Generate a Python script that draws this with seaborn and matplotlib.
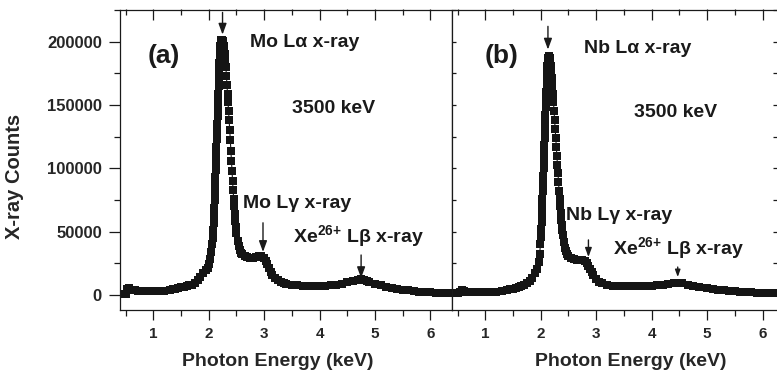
import matplotlib
matplotlib.use("Agg")
import matplotlib.pyplot as plt
from matplotlib.ticker import MultipleLocator
import seaborn as sns

# Mo target spectrum, panel (a)
mo_energy = [0.40, 0.45, 0.50, 0.53, 0.57, 0.62, 0.67, 0.72, 0.80, 0.90,
             1.00, 1.10, 1.20, 1.30, 1.35, 1.40, 1.45, 1.50, 1.55, 1.60,
             1.65, 1.70, 1.75, 1.80, 1.85, 1.90, 1.95, 1.98, 2.01, 2.03,
             2.05, 2.065, 2.075,
             2.085, 2.090, 2.095, 2.100, 2.105, 2.110, 2.115, 2.120, 2.125, 2.130,
             2.135, 2.140, 2.145, 2.150, 2.155, 2.160, 2.165, 2.170, 2.175, 2.180,
             2.185, 2.190, 2.195, 2.200, 2.205, 2.210, 2.215, 2.220, 2.230, 2.240,
             2.250, 2.260, 2.270, 2.280, 2.290, 2.300, 2.310, 2.320, 2.330, 2.340,
             2.350, 2.360, 2.370, 2.380, 2.390, 2.400, 2.410, 2.420, 2.430, 2.440,
             2.450, 2.460, 2.470, 2.480, 2.490, 2.500, 2.520, 2.540, 2.560, 2.580,
             2.600, 2.650, 2.700, 2.750, 2.800, 2.850, 2.900, 2.950, 3.000, 3.030,
             3.060, 3.090, 3.120, 3.150, 3.200, 3.250, 3.300, 3.350, 3.400, 3.500,
             3.600, 3.700, 3.800, 3.900, 4.000, 4.100, 4.200, 4.300, 4.400, 4.500,
             4.600, 4.700, 4.750, 4.800, 4.850, 4.900, 5.000, 5.100, 5.200, 5.300,
             5.400, 5.500, 5.600, 5.700, 5.800, 5.900, 6.000, 6.100, 6.200, 6.300,
             6.400]
mo_counts = [800, 900, 1200, 4500, 5200, 4300, 3600, 3300, 3000, 2900,
             2900, 3000, 3300, 4000, 4500, 5000, 5500, 6000, 6500, 7000,
             7600, 8300, 9500, 11500, 14000, 17000, 19500, 21500, 24500, 28500,
             34000, 40000, 45000,
             51000, 57000, 63000, 69000, 75000, 81000, 87000, 93000, 99000, 105000,
             111000, 117000, 123000, 129000, 135000, 141000, 147000, 153000, 159000, 165000,
             171000, 177000, 183000, 189000, 193000, 196500, 199000, 200500, 201500, 201500,
             200500, 199000, 196500, 193500, 190000, 185500, 180000, 173000, 166000, 159000,
             152000, 145000, 138000, 130000, 122000, 114000, 106000, 98000, 90000, 83000,
             76000, 70000, 64000, 58500, 53500, 49000, 43000, 38500, 35500, 33500,
             32000, 30500, 30000, 29500, 29500, 30000, 30500, 30500, 29000, 27000,
             24500, 21500, 18500, 16000, 13500, 11500, 10200, 9400, 8800, 8200,
             7800, 7500, 7400, 7300, 7300, 7400, 7600, 8200, 9000, 10000,
             11000, 12000, 12300, 12000, 11200, 10300, 9000, 7800, 6700, 5700,
             4900, 4200, 3600, 3100, 2700, 2400, 2200, 2000, 1900, 1800,
             1800]

# Nb target spectrum, panel (b)
nb_energy = [0.40, 0.45, 0.50, 0.55, 0.58, 0.62, 0.67, 0.72, 0.80, 0.90,
             1.00, 1.10, 1.20, 1.30, 1.40, 1.45, 1.50, 1.55, 1.60, 1.65,
             1.70, 1.75, 1.80, 1.85, 1.90, 1.93, 1.96, 1.98, 1.995, 2.005,
             2.010, 2.015, 2.020, 2.025, 2.030, 2.035, 2.040, 2.045, 2.050, 2.055,
             2.060, 2.065, 2.070, 2.075, 2.080, 2.085, 2.090, 2.095, 2.100, 2.105,
             2.110, 2.115, 2.120, 2.125, 2.130, 2.140, 2.150, 2.160, 2.170, 2.180,
             2.190, 2.200, 2.210, 2.220, 2.230, 2.240, 2.250, 2.260, 2.270, 2.280,
             2.290, 2.300, 2.310, 2.320, 2.330, 2.340, 2.350, 2.360, 2.370, 2.380,
             2.390, 2.400, 2.420, 2.440, 2.460, 2.480, 2.500, 2.550, 2.600, 2.650,
             2.700, 2.750, 2.800, 2.830, 2.860, 2.890, 2.920, 2.950, 3.000, 3.050,
             3.100, 3.200, 3.300, 3.400, 3.500, 3.600, 3.700, 3.800, 3.900, 4.000,
             4.100, 4.200, 4.300, 4.400, 4.470, 4.550, 4.650, 4.750, 4.850, 5.000,
             5.100, 5.200, 5.300, 5.400, 5.500, 5.600, 5.700, 5.800, 5.900, 6.000,
             6.100, 6.200, 6.300]
nb_counts = [1500, 1500, 1700, 2500, 4000, 3200, 2700, 2400, 2200, 2100,
             2100, 2300, 2700, 3200, 4000, 4500, 5000, 5600, 6200, 7000,
             8000, 9200, 11000, 13500, 17000, 20500, 26000, 32000, 40000, 46000,
             52000, 58000, 64000, 70000, 76000, 82000, 88000, 94000, 100000, 106000,
             112000, 118000, 124000, 130000, 136000, 142000, 148000, 154000, 160000, 166000,
             172000, 177000, 181000, 185000, 187000, 188500, 188500, 187000, 184500, 181000,
             176000, 171000, 165000, 159000, 152000, 145000, 138000, 131000, 124000, 117000,
             110000, 103000, 96000, 89000, 82000, 76000, 70000, 64500, 59500, 55000,
             51000, 47500, 42000, 37500, 34500, 32500, 31000, 29500, 28500, 28000,
             28000, 27800, 27000, 25500, 23000, 20500, 18000, 15500, 12500, 10500,
             9300, 8200, 7500, 7100, 6900, 6800, 6800, 6900, 7100, 7400,
             7700, 8000, 8700, 9400, 9800, 9200, 8200, 7200, 6300, 5300,
             4700, 4200, 3700, 3300, 2900, 2600, 2300, 2100, 1900, 1800,
             1700, 1600, 1600]

y_ticks = [0, 50000, 100000, 150000, 200000]
y_tick_labels = ["0", "50000", "100000", "150000", "200000"]
x_ticks = [1, 2, 3, 4, 5, 6]

# text labels: (text, x, baseline y, size)
labels_a = [("(a)", 0.89, 183000, 19),
            ("Mo L\u03b1 x-ray", 2.75, 196000, 14),
            ("3500 keV", 3.50, 143500, 14),
            ("Mo L\u03b3 x-ray", 2.62, 68400, 14),
            ("Xe$^{\\mathbf{26{+}}}$ L\u03b2 x-ray", 3.53, 40800, 14)]
labels_b = [("(b)", 0.98, 183000, 19),
            ("Nb L\u03b1 x-ray", 2.78, 190800, 14),
            ("3500 keV", 3.68, 140800, 14),
            ("Nb L\u03b3 x-ray", 2.46, 59200, 14),
            ("Xe$^{\\mathbf{26{+}}}$ L\u03b2 x-ray", 3.31, 31600, 14)]

# arrows: (x, tail y, head y, head scale)
arrows_a = [(2.25, 223000, 205500, 11), (2.98, 57000, 34000, 11),
            (4.75, 31600, 13400, 11)]
arrows_b = [(2.13, 212000, 193700, 11), (2.86, 43500, 30000, 9),
            (4.47, 22100, 14200, 7)]

sns.set_style("ticks")
plt.rcParams["font.family"] = ["Liberation Sans", "DejaVu Sans"]
plt.rcParams["font.weight"] = "bold"
plt.rcParams["mathtext.fontset"] = "custom"
plt.rcParams["mathtext.bf"] = "Liberation Sans:bold"
plt.rcParams["mathtext.rm"] = "Liberation Sans:bold"
plt.rcParams["axes.linewidth"] = 0.9
plt.rcParams["axes.edgecolor"] = "#1a1a1a"

curve_color = "#151515"

fig = plt.figure(figsize=(7.77, 3.76), dpi=100)
ax1 = fig.add_axes([120 / 777, 66 / 376, 332 / 777, 300.5 / 376])
ax2 = fig.add_axes([452 / 777, 66 / 376, 325 / 777, 300.5 / 376])


def draw_panel(ax, energy, counts, xlim, labels, arrows):
    sns.lineplot(x=energy, y=counts, ax=ax, color=curve_color, linewidth=0.8,
                 marker="s", markersize=5.7, markeredgewidth=0,
                 sort=False, estimator=None)
    ax.set_xlim(*xlim)
    ax.set_ylim(-11800, 225300)
    ax.set_xticks(x_ticks)
    ax.xaxis.set_minor_locator(MultipleLocator(0.5))
    ax.tick_params(axis="x", which="major", direction="out", length=7, width=0.9,
                   labelsize=11, pad=5, color="#1a1a1a")
    ax.tick_params(axis="x", which="minor", direction="out", length=4, width=0.9,
                   color="#1a1a1a")
    ax.set_xlabel("Photon Energy (keV)", fontsize=14, fontweight="bold")

    # top ticks point inward
    top = ax.secondary_xaxis("top")
    top.set_xticks(x_ticks)
    top.xaxis.set_minor_locator(MultipleLocator(0.5))
    top.tick_params(axis="x", which="major", direction="in", length=8, width=0.9,
                    labeltop=False, color="#1a1a1a")
    top.tick_params(axis="x", which="minor", direction="in", length=4, width=0.9,
                    color="#1a1a1a")
    top.spines["top"].set_visible(False)

    for text, x, y, size in labels:
        ax.text(x, y, text, fontsize=size, fontweight="bold", ha="left",
                va="baseline", color="#1a1a1a")
    for x, tail, head, scale in arrows:
        ax.annotate("", xy=(x, head), xytext=(x, tail),
                    arrowprops=dict(arrowstyle="-|>,head_length=0.6,head_width=0.22",
                                    color="#1a1a1a", lw=1.0, shrinkA=0, shrinkB=0,
                                    mutation_scale=scale))


draw_panel(ax1, mo_energy, mo_counts, (0.4, 6.39), labels_a, arrows_a)
draw_panel(ax2, nb_energy, nb_counts, (0.4, 6.26), labels_b, arrows_b)

ax1.set_yticks(y_ticks)
ax1.set_yticklabels(y_tick_labels)
ax1.yaxis.set_minor_locator(MultipleLocator(25000))
ax1.tick_params(axis="y", which="major", direction="out", length=8, width=0.9,
                labelsize=12, pad=5, right=False, color="#1a1a1a")
ax1.tick_params(axis="y", which="minor", direction="out", length=4, width=0.9,
                right=False, color="#1a1a1a")
ax1.set_ylabel("X-ray Counts", fontsize=14.5, fontweight="bold")
ax1.yaxis.set_label_coords(-0.289, 0.446)
ax1.xaxis.set_label_coords(0.474, -0.143)

ax2.set_yticks(y_ticks)
ax2.yaxis.set_minor_locator(MultipleLocator(25000))
ax2.tick_params(axis="y", which="both", direction="in", length=3, width=0.9,
                left=True, right=True, labelleft=False, color="#1a1a1a")
ax2.spines["right"].set_visible(False)
ax2.set_ylabel("")
ax2.xaxis.set_label_coords(0.55, -0.143)

fig.savefig("out.png", dpi=100)
